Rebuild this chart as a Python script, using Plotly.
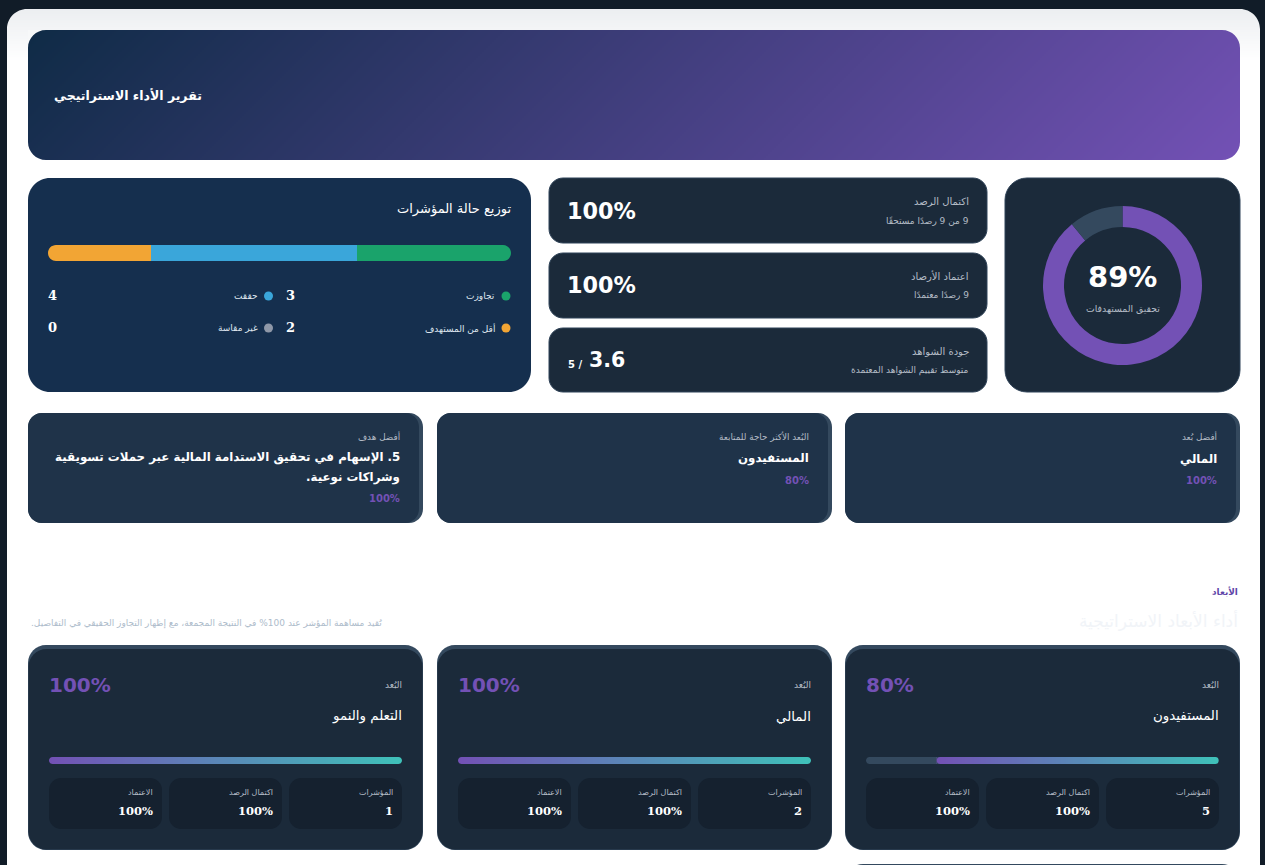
import numpy as np
import plotly.graph_objects as go

W, H = 1265, 865
RLM = "\u200f"
SANS = "DejaVu Sans"
SERIF = "DejaVu Serif"

NAVY = "#152f4e"
CARD = "#1b2a3a"
CARD_LIGHT = "#1f3349"
TILE = "#15212f"
EDGE = "#34495e"
MUTED = "#b4bcc6"
PURPLE = "#7351b5"
TEAL = "#3fc1b9"

report_title = "تقرير الأداء الاستراتيجي"

status_title = "توزيع حالة المؤشرات"
status_labels = ["تجاوزت", "حققت", "أقل من المستهدف", "غير مقاسة"]
status_counts = [3, 4, 2, 0]
status_colors = ["#1aa36b", "#3aa6da", "#f2a534", "#8f98a8"]

kpi_labels = ["اكتمال الرصد", "اعتماد الأرصاد", "جودة الشواهد"]
kpi_notes = ["9 من 9 رصدًا مستحقًا", "9 رصدًا معتمدًا", "متوسط تقييم الشواهد المعتمدة"]
kpi_values = ["100%", "100%", "3.6"]
quality_scale = "5 /"

target_score = 89
target_label = "تحقيق المستهدفات"

best_labels = ["أفضل بُعد", "البُعد الأكثر حاجة للمتابعة", "أفضل هدف"]
best_names = [["المالي"], ["المستفيدون"],
              ["5. الإسهام في تحقيق الاستدامة المالية عبر حملات تسويقية", "وشراكات نوعية."]]
best_scores = [100, 80, 100]

section_tag = "الأبعاد"
section_title = "أداء الأبعاد الاستراتيجية"
section_note = "تُقيد مساهمة المؤشر عند 100% في النتيجة المجمعة، مع إظهار التجاوز الحقيقي في التفاصيل."

dim_tag = "البُعد"
dim_names = ["المستفيدون", "المالي", "التعلم والنمو"]
dim_scores = [80, 100, 100]
dim_indicators = [5, 2, 1]
dim_completion = [100, 100, 100]
dim_approval = [100, 100, 100]
tile_labels = ["المؤشرات", "اكتمال الرصد", "الاعتماد"]

fig = go.Figure()
shapes = []
masks = []
axis_count = [1]


def round_rect(x0, y0, x1, y1, r):
    k = r * 0.4477
    return (f"M {x0 + r} {y0} L {x1 - r} {y0} C {x1 - k} {y0} {x1} {y0 + k} {x1} {y0 + r} "
            f"L {x1} {y1 - r} C {x1} {y1 - k} {x1 - k} {y1} {x1 - r} {y1} "
            f"L {x0 + r} {y1} C {x0 + k} {y1} {x0} {y1 - k} {x0} {y1 - r} "
            f"L {x0} {y0 + r} C {x0} {y0 + k} {x0 + k} {y0} {x0 + r} {y0} Z")


def card(x0, y0, x1, y1, r, color, border=None):
    shapes.append(dict(type="path", path=round_rect(x0, y0, x1, y1, r), fillcolor=color,
                       line=dict(color=border or color, width=1 if border else 0),
                       xref="x", yref="y", layer="below"))


def corner(x, y, r, sx, sy, color):
    k = r * 0.4477
    path = (f"M {x} {y} L {x + sx * r} {y} C {x + sx * k} {y} {x} {y + sy * k} "
            f"{x} {y + sy * r} Z")
    masks.append(dict(type="path", path=path, fillcolor=color, line=dict(width=0),
                      xref="x", yref="y", layer="above"))


def text(x, y, s, size, color="#ffffff", anchor="right", bold=False, font=SANS):
    # annotations sit a little inside their anchor
    shift = {"right": 1, "left": -1, "center": 0}[anchor]
    fig.add_annotation(x=x, y=y, xref="x", yref="y", text=s, showarrow=False,
                       xanchor=anchor, yanchor="middle", borderpad=0, xshift=shift,
                       font=dict(family=font, size=size, color=color,
                                 weight=700 if bold else 400))


def rtl(s):
    return RLM + s + RLM


# every data panel gets its own little pair of axes, placed by pixels
def pixel_axes(x0, x1, y0, y1, xrange, yrange):
    axis_count[0] += 1
    n = axis_count[0]
    hidden = dict(visible=False, fixedrange=True)
    fig.update_layout({
        f"xaxis{n}": dict(domain=[x0 / W, x1 / W], range=xrange, anchor=f"y{n}", **hidden),
        f"yaxis{n}": dict(domain=[1 - y1 / H, 1 - y0 / H], range=yrange, anchor=f"x{n}", **hidden),
    })
    return f"x{n}", f"y{n}"


# page
card(7, 9, 1260, 900, 0, "#ffffff")
shapes_wash = np.linspace(0, 1, 30).reshape(-1, 1)
fig.add_trace(go.Heatmap(z=shapes_wash, x=[7, 1260], y=np.linspace(9, 62, 31), xaxis="x", yaxis="y",
                         colorscale=[[0, "#eceef1"], [1, "#ffffff"]], zmin=0, zmax=1,
                         showscale=False, hoverinfo="skip"))
corner(7, 9, 20, 1, 1, "#111c28")
corner(1260, 9, 20, -1, 1, "#111c28")

# banner
bx, by = np.meshgrid(np.linspace(0, 1212, 607), np.linspace(0, 130, 66))
bt = 0.5 + ((bx[:-1, :-1] + 1 - 606) + (by[:-1, :-1] + 1 - 65)) * 0.7071 / ((1212 + 130) * 0.7071)
xa, ya = pixel_axes(28, 1240, 30, 160, [0, 1212], [130, 0])
fig.add_trace(go.Heatmap(z=bt, x=bx[0], y=by[:, 0], xaxis=xa, yaxis=ya, zmin=0, zmax=1,
                         colorscale=[[0, "#0f2b46"], [1, PURPLE]], showscale=False, hoverinfo="skip"))
corner(28, 30, 18, 1, 1, "#f7f8f9")
corner(1240, 30, 18, -1, 1, "#f7f8f9")
corner(28, 160, 18, 1, -1, "#ffffff")
corner(1240, 160, 18, -1, -1, "#ffffff")
text(202, 95, rtl(report_title), 12.5, bold=True)

# status distribution
card(28, 178, 531, 392, 22, NAVY)
text(511, 209, rtl(status_title), 13)
xa, ya = pixel_axes(48, 511, 245, 261, [sum(status_counts), 0], [-0.5, 0.5])
for label, count, color in zip(status_labels, status_counts, status_colors):
    fig.add_trace(go.Bar(x=[count], y=[0], orientation="h", xaxis=xa, yaxis=ya, name=label,
                         marker=dict(color=color, line=dict(width=0)), hoverinfo="skip"))
corner(48, 245, 8, 1, 1, NAVY)
corner(48, 261, 8, 1, -1, NAVY)
corner(511, 245, 8, -1, 1, NAVY)
corner(511, 261, 8, -1, -1, NAVY)
for i, (label, count, color) in enumerate(zip(status_labels, status_counts, status_colors)):
    row_y = 296 + 32 * (i // 2)
    dot_x, count_x = (506, 286) if i % 2 == 0 else (268.5, 48)
    shapes.append(dict(type="circle", x0=dot_x - 4.5, x1=dot_x + 4.5, y0=row_y - 4.5, y1=row_y + 4.5,
                       xref="x", yref="y", fillcolor=color, line=dict(width=0), layer="below"))
    text(dot_x - 11, row_y, rtl(label), 9, "#dfe6ee")
    text(count_x, row_y - 0.5, str(count), 13, anchor="left", bold=True, font=SERIF)

# kpi cards
kpi_rows = [(178, 243, 201.5, 220.5, 211), (253, 318, 275.5, 294.5, 285), (328, 392, 351, 370, 360)]
for i, (y0, y1, label_y, note_y, value_y) in enumerate(kpi_rows):
    card(549, y0, 987, y1, 14, CARD, "#2f4358")
    text(969, label_y, rtl(kpi_labels[i]), 10, MUTED)
    text(969, note_y, rtl(kpi_notes[i]), 9, MUTED)
    if i < 2:
        text(567, value_y, kpi_values[i], 22.3, anchor="left", bold=True)
text(589, 360, kpi_values[2], 20.5, anchor="left", bold=True)
text(568, 364, quality_scale, 10, anchor="left", bold=True)

# target donut
card(1005, 178, 1240, 392, 22, CARD, "#2f4358")
fig.add_trace(go.Pie(values=[target_score, 100 - target_score], sort=False, direction="clockwise",
                     rotation=0, hole=0.736, textinfo="none", hoverinfo="skip", showlegend=False,
                     marker=dict(colors=[PURPLE, EDGE], line=dict(width=0)),
                     domain=dict(x=[1043 / W, 1202 / W], y=[1 - 365 / H, 1 - 206 / H])))
text(1122.5, 277, f"{target_score}%", 29, anchor="center", bold=True)
text(1122.5, 308.5, rtl(target_label), 9.3, MUTED, anchor="center")

# highlight cards
for i, x0 in enumerate([845, 437, 28]):
    x1 = x0 + 395
    card(x0, 413, x1, 523, 14, EDGE)
    card(x0, 413, x1 - 4, 523, 14, CARD_LIGHT)
    right = x1 - 23
    text(right, 436, rtl(best_labels[i]), 8.8, MUTED)
    for j, line in enumerate(best_names[i]):
        text(right, (458.5 if len(best_names[i]) == 1 else 457) + 20 * j, rtl(line), 11.8, bold=True)
    score_y = 480 if len(best_names[i]) == 1 else 498
    text(right, score_y, f"{best_scores[i]}%", 10, PURPLE, bold=True)

# section heading
text(1238, 591, rtl(section_tag), 8.9, "#5e45a8", bold=True)
text(1238, 620, rtl(section_title), 17, "#f1f4f8")
text(382, 623.5, rtl(section_note), 9, "#aebccb")

# dimension cards
for i, x0 in enumerate([845, 437, 28]):
    x1 = x0 + 395
    left, right = x0 + 21, x1 - 21
    card(x0, 645, x1, 850, 18, EDGE)
    card(x0 + 0.5, 649, x1 - 0.5, 849.5, 18, CARD)
    text(right, 685, rtl(dim_tag), 9, MUTED)
    text(left, 685, f"{dim_scores[i]}%", 20, PURPLE, anchor="left", bold=True)
    text(right, 716, rtl(dim_names[i]), 13.4)

    # progress track and gradient fill
    card(left, 757, right, 764, 3.5, EDGE)
    score = dim_scores[i]
    xa, ya = pixel_axes(left, right, 757, 764, [100, 0], [0, 1])
    edges = np.linspace(0, score, 121)
    fig.add_trace(go.Heatmap(z=[(score - (edges[:-1] + edges[1:]) / 2) / score], x=edges, y=[0, 1],
                             xaxis=xa, yaxis=ya, zmin=0, zmax=1, showscale=False, hoverinfo="skip",
                             colorscale=[[0, PURPLE], [1, TEAL]]))
    fill_left = right - (right - left) * score / 100
    left_color = CARD if score == 100 else EDGE
    corner(fill_left, 757, 3.5, 1, 1, left_color)
    corner(fill_left, 764, 3.5, 1, -1, left_color)
    corner(right, 757, 3.5, -1, 1, CARD)
    corner(right, 764, 3.5, -1, -1, CARD)

    # tiles, right to left
    tile_values = [str(dim_indicators[i]), f"{dim_completion[i]}%", f"{dim_approval[i]}%"]
    for j in range(3):
        tx1 = right - 120 * j
        tx0 = tx1 - 113
        card(tx0, 778, tx1, 829, 12, TILE)
        text(tx1 - 9, 792, rtl(tile_labels[j]), 8, MUTED)
        text(tx1 - 9, 811, tile_values[j], 11.5, bold=True, font=SERIF)

# top of the next row of cards, cut by the window
card(845, 864, 1240, 1000, 18, EDGE)

fig.update_layout(
    width=W, height=H, margin=dict(l=0, r=0, t=0, b=0), autosize=False,
    paper_bgcolor="#111c28", plot_bgcolor="rgba(0,0,0,0)",
    xaxis=dict(domain=[0, 1], range=[0, W], visible=False, fixedrange=True),
    yaxis=dict(domain=[0, 1], range=[H, 0], visible=False, fixedrange=True),
    barmode="stack", bargap=0, showlegend=False, hovermode=False,
    shapes=shapes + masks,
)

fig.write_html("out.html", config={"displayModeBar": False},
               post_script="document.body.style.margin='0';document.documentElement.style.overflow='hidden';")
